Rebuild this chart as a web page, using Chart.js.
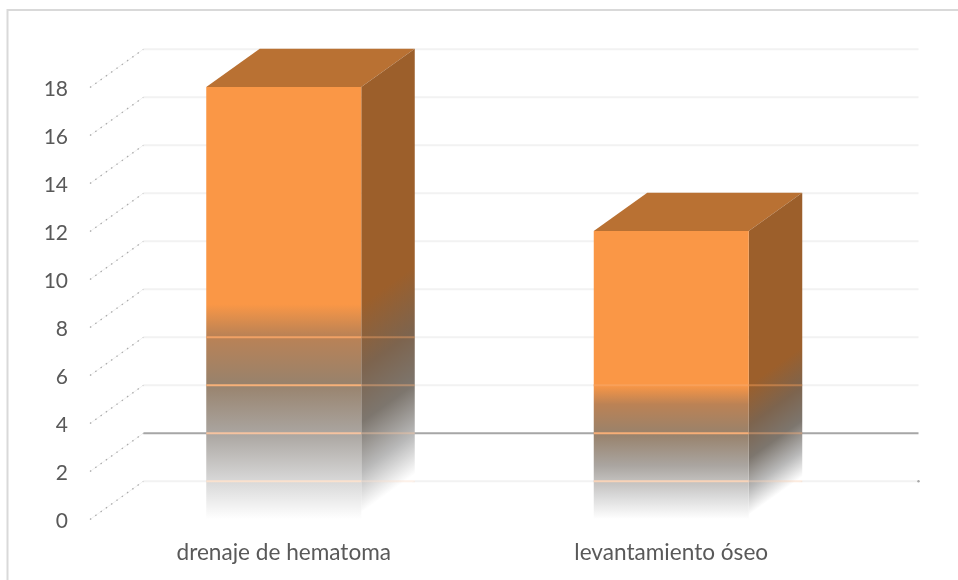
<!DOCTYPE html>
<html><head><meta charset="utf-8">
<style>html,body{margin:0;padding:0;background:#fff}canvas{display:block}</style>
<script src="https://cdn.jsdelivr.net/npm/chart.js@4"></script></head>
<body><canvas id="c" width="958" height="580"></canvas>
<script>
const categories = ['drenaje de hematoma', 'levantamiento óseo'];
const seriesValues = [18, 12];
const tickStep = 2;
const axisMax = 18;
const emphasisedWallValue = 2;

const DX = 53.5, DY = -38.3;
const fadeShares = [0.497, 0.465];
const frontStops = [[0,[250,151,70]],[.145,[187,130,85]],[.37,[152,130,108]],[.6,[170,165,160]],[.82,[215,215,215]],[1,[255,255,255]]];
const sideStops = [[0,[156,95,43]],[.3,[125,100,78]],[.55,[125,118,110]],[.78,[185,185,185]],[.97,[255,255,255]],[1,[255,255,255]]];
const lineStops = [[0,[248,160,90]],[.145,[240,160,100]],[.37,[246,175,120]],[.6,[245,195,160]],[.82,[250,225,205]],[1,[255,240,230]]];

function rgb(c){return 'rgb('+c[0]+','+c[1]+','+c[2]+')';}
function fadeGradient(ctx, top, base, stops, share){
  const start = base - (base - top) * share;
  const g = ctx.createLinearGradient(0, start, 0, base);
  stops.forEach(s => g.addColorStop(s[0], rgb(s[1])));
  return g;
}
function stopAt(stops, f){
  for (let i = 1; i < stops.length; i++) {
    if (f <= stops[i][0]) {
      const a = stops[i-1], b = stops[i], t = (f - a[0]) / (b[0] - a[0]);
      return a[1].map((v, k) => Math.round(v + (b[1][k] - v) * t));
    }
  }
  return stops[stops.length-1][1];
}

const depthPlugin = {
  id: 'depth',
  beforeDatasetsDraw(chart){
    const ctx = chart.ctx, y = chart.scales.y, a = chart.chartArea;
    ctx.save();
    ctx.strokeStyle = '#D9D9D9'; ctx.lineWidth = 2;
    ctx.beginPath(); ctx.moveTo(7.5, 580); ctx.lineTo(7.5, 10); ctx.lineTo(958, 10); ctx.stroke();
    y.ticks.forEach(t => {
      const py = y.getPixelForValue(t.value) + 0.5;
      const bx = a.left + DX, by = py + DY;
      ctx.setLineDash([]);
      ctx.strokeStyle = '#F2F2F2'; ctx.lineWidth = 1;
      ctx.beginPath(); ctx.moveTo(a.left, py); ctx.lineTo(bx, by); ctx.stroke();
      ctx.setLineDash([1.5, 5]);
      ctx.strokeStyle = '#ABABAB'; ctx.lineWidth = 1.3;
      ctx.beginPath(); ctx.moveTo(a.left, py); ctx.lineTo(bx, by); ctx.stroke();
      ctx.setLineDash([]);
      const strong = t.value === emphasisedWallValue;
      ctx.strokeStyle = strong ? '#A6A6A6' : '#F2F2F2';
      ctx.lineWidth = 2;
      ctx.beginPath(); ctx.moveTo(bx, by); ctx.lineTo(a.right + DX, by); ctx.stroke();
    });
    const end0 = y.getPixelForValue(0) + 0.5 + DY;
    ctx.fillStyle = '#A6A6A6';
    ctx.beginPath(); ctx.arc(a.right + DX, end0, 1.2, 0, Math.PI*2); ctx.fill();

    chart.getDatasetMeta(0).data.forEach((bar, i) => {
      const w = bar.width, l = bar.x - w/2, r = bar.x + w/2, top = bar.y, base = bar.base;
      ctx.fillStyle = '#B97133';
      ctx.beginPath();
      ctx.moveTo(l, top); ctx.lineTo(l + DX, top + DY); ctx.lineTo(r + DX, top + DY); ctx.lineTo(r, top);
      ctx.closePath(); ctx.fill();
      ctx.save();
      ctx.transform(1, DY/DX, 0, 1, 0, -r*DY/DX);
      ctx.fillStyle = fadeGradient(ctx, top, base, sideStops, fadeShares[i]);
      ctx.fillRect(r, top, DX, base - top);
      ctx.restore();
    });
    ctx.restore();
  },
  afterDatasetsDraw(chart){
    const ctx = chart.ctx, y = chart.scales.y;
    ctx.save();
    chart.getDatasetMeta(0).data.forEach((bar, i) => {
      const w = bar.width, l = bar.x - w/2, r = bar.x + w/2;
      const start = bar.base - (bar.base - bar.y) * fadeShares[i];
      const len = bar.base - start;
      y.ticks.forEach(t => {
        const by = y.getPixelForValue(t.value) + 0.5 + DY;
        const f = (by - start) / len;
        if (f < -0.02 || f > 1) return;
        const c = stopAt(lineStops, Math.max(f, 0));
        ctx.lineWidth = 2;
        ctx.strokeStyle = rgb(c);
        ctx.beginPath(); ctx.moveTo(l, by); ctx.lineTo(r, by); ctx.stroke();
        ctx.strokeStyle = 'rgba('+c.join(',')+',0.45)';
        ctx.beginPath(); ctx.moveTo(r, by); ctx.lineTo(r + DX, by); ctx.stroke();
      });
    });
    ctx.restore();
  }
};

new Chart(document.getElementById('c'), {
  type: 'bar',
  data: { labels: categories, datasets: [{
    data: seriesValues,
    barPercentage: 0.4,
    categoryPercentage: 1,
    borderWidth: 0,
    backgroundColor(ctx){
      const ch = ctx.chart;
      if (!ch.chartArea || !ch.scales.y) return rgb(frontStops[0][1]);
      const top = ch.scales.y.getPixelForValue(ctx.raw), base = ch.scales.y.getPixelForValue(0);
      return fadeGradient(ch.ctx, top, base, frontStops, fadeShares[ctx.dataIndex]);
    }
  }]},
  options: {
    responsive: false,
    animation: false,
    events: [],
    layout: { padding: { top: 87, right: 93, bottom: 0, left: 0 } },
    plugins: { legend: { display: false }, title: { display: false }, tooltip: { enabled: false } },
    scales: {
      x: {
        grid: { display: false, drawTicks: false }, border: { display: false },
        ticks: { color: '#595959', font: { family: 'Lato', size: 22.6 }, padding: 20, maxRotation: 0 },
        afterFit(s){ s.height = 61; }
      },
      y: {
        min: 0, max: axisMax,
        grid: { display: false, drawTicks: false }, border: { display: false },
        ticks: { stepSize: tickStep, color: '#595959', font: { family: 'Lato', size: 21 }, padding: 22 },
        afterFit(s){
          s.width = 90;
          if (!s._shifted) {
            const draw = s.drawLabels;
            s.drawLabels = function(area){ s.ctx.save(); s.ctx.translate(0, 2); draw.call(s, area); s.ctx.restore(); };
            s._shifted = true;
          }
        }
      }
    }
  },
  plugins: [depthPlugin]
});
</script></body></html>
